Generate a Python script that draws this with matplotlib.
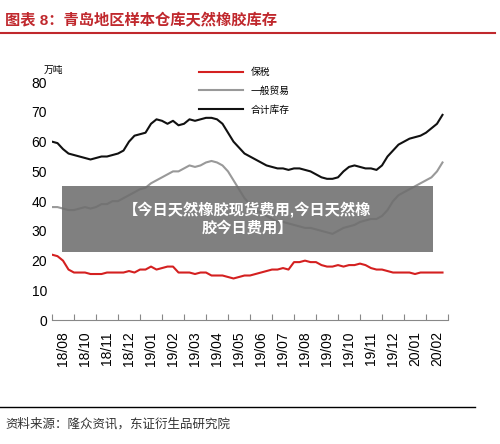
import matplotlib.pyplot as plt
from matplotlib.patches import Rectangle

plt.rcParams['font.family'] = ['Liberation Sans', 'Noto Sans CJK SC', 'DejaVu Sans']

months = ["18/08", "18/10", "18/11", "18/12", "19/01", "19/02", "19/03", "19/04", "19/05",
          "19/06", "19/07", "19/08", "19/09", "19/10", "19/11", "19/12", "20/01", "20/02"]

# weekly readings, four per month slot
bonded = [22, 21.5, 20, 17, 16, 16, 16, 15.5, 15.5, 15.5, 16, 16, 16, 16, 16.5, 16,
          17, 17, 18, 17, 17.5, 18, 18, 16, 16, 16, 15.5, 16, 16, 15, 15, 15,
          14.5, 14, 14.5, 15, 15, 15.5, 16, 16.5, 17, 17, 17.5, 17, 19.5, 19.5, 20, 19.5,
          19.5, 18.5, 18, 18, 18.5, 18, 18.5, 18.5, 19, 18.5, 17.5, 17, 17, 16.5, 16, 16,
          16, 16, 15.5, 16, 16, 16, 16, 16]
general = [38, 38, 37.5, 37, 37, 37.5, 38, 37.5, 38, 39, 39, 40, 40, 41, 42, 43,
           44, 44.5, 46, 47, 48, 49, 50, 50, 51, 52, 51.5, 52, 53, 53.5, 53, 52,
           50, 47, 44, 41, 39, 37, 36, 35, 34, 33, 33, 32.5, 32, 31.5, 31, 31,
           30.5, 30, 29.5, 29, 30, 31, 31.5, 32, 33, 33.5, 34, 34, 35, 37, 40, 42,
           43, 44, 45, 46, 47, 48, 50, 53]
total = [60, 59.5, 57.5, 56, 55.5, 55, 54.5, 54, 54.5, 55, 55, 55.5, 56, 57, 60, 62,
         62.5, 63, 66, 67.5, 67, 66, 67, 65.5, 66, 67.5, 67, 67.5, 68, 68, 67.5, 66,
         63, 60, 58, 56, 55, 54, 53, 52, 51.5, 51, 51, 50.5, 51, 51, 50.5, 50,
         49, 48, 47.5, 47.5, 48, 50, 51.5, 52, 51.5, 51, 51, 50.5, 52, 55, 57, 59,
         60, 61, 61.5, 62, 63, 64.5, 66, 69]

fig = plt.figure(figsize=(5.0, 4.44), dpi=100)

# header
fig.text(0.01, 0.955, "图表 8：青岛地区样本仓库天然橡胶库存", color="#c0282d",
         fontsize=11, fontweight="bold", va="center")
fig.add_artist(plt.Line2D([0.0, 0.99], [0.925, 0.925], color="#c0282d", lw=1.5))

ax = fig.add_axes([0.104, 0.279, 0.792, 0.536])
n = len(total)
x = [i / 4 for i in range(n)]
ax.plot(x, bonded, color="#d42020", lw=1.5, label="保税")
ax.plot(x, general, color="#999999", lw=1.5, label="一般贸易")
ax.plot(x, total, color="#111111", lw=1.5, label="合计库存")
ax.set_xlim(0, len(months))
ax.set_ylim(0, 80)
ax.set_yticks(range(0, 81, 10))
ax.set_xticks(range(len(months) + 1))
ax.set_xticklabels([])
ax.set_xticks([i + 0.5 for i in range(len(months))], minor=True)
ax.set_xticklabels(months, minor=True, rotation=90, fontsize=10)
ax.tick_params(axis="x", which="minor", length=0, pad=8)
ax.tick_params(axis="x", which="major", length=4, direction="in", color="#888888")
ax.tick_params(axis="y", length=0, labelsize=10)
for s in ["top", "right", "left"]:
    ax.spines[s].set_visible(False)
ax.spines["bottom"].set_color("#888888")
ax.text(-0.02, 1.04, "万吨", transform=ax.transAxes, fontsize=7)
ax.legend(loc="upper left", bbox_to_anchor=(0.35, 1.1), frameon=False, fontsize=7,
          handlelength=4.5, labelspacing=0.9)

# banner overlay
fig.add_artist(Rectangle((0.124, 0.432), 0.742, 0.150, transform=fig.transFigure,
                         facecolor="#6e6e6e", alpha=0.88, edgecolor="none"))
fig.text(0.495, 0.507, "【今日天然橡胶现货费用,今日天然橡\n胶今日费用】", color="white",
         fontsize=11, fontweight="bold", ha="center", va="center", linespacing=1.3)

# footer
fig.add_artist(plt.Line2D([0.0, 0.95], [0.083, 0.083], color="black", lw=1))
fig.text(0.01, 0.045, "资料来源：隆众资讯，东证衍生品研究院", fontsize=9, color="#333333", va="center")

fig.savefig("out.png", dpi=100)
